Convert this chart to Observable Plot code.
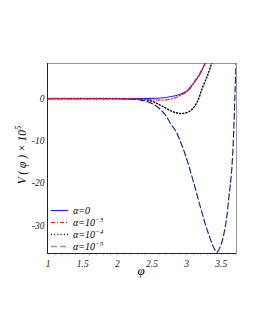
<!DOCTYPE html>
<html>
<head>
<meta charset="utf-8">
<script src="https://cdn.jsdelivr.net/npm/d3@7"></script>
<script src="https://cdn.jsdelivr.net/npm/@observablehq/plot@0.6"></script>
<style>
  html, body { margin: 0; padding: 0; background: #fff; }
  #chart { width: 255px; height: 330px; }
</style>
</head>
<body>
<div id="chart"></div>
<script>
// α = 0
const phiA0 = [1, 1.5, 2, 2.3, 2.5, 2.7, 2.82, 2.92, 3.01, 3.06, 3.11, 3.155, 3.2, 3.23, 3.26, 3.28];
const vA0   = [0, 0, 0, 0, 0.05, 0.25, 0.6, 1.1, 1.9, 2.9, 3.8, 4.8, 6.0, 7.0, 8.0, 8.6];
// α = 10^-3
const phiA3 = [1, 1.5, 2, 2.3, 2.5, 2.7, 2.8, 2.9, 3.0, 3.06, 3.11, 3.16, 3.21, 3.25, 3.27];
const vA3   = [0, 0, 0, -0.1, -0.3, -0.3, 0, 0.7, 1.6, 2.6, 4.0, 5.2, 6.6, 7.9, 8.6];
// α = 10^-4
const phiA4 = [1, 1.5, 2, 2.2, 2.35, 2.48, 2.58, 2.67, 2.75, 2.82, 2.94, 3.06, 3.155, 3.23, 3.3, 3.35, 3.37];
const vA4   = [0, 0, 0, -0.05, -0.2, -0.5, -1.2, -2.0, -2.7, -3.2, -3.5, -2.8, -0.7, 2.7, 5.4, 7.8, 8.8];
// α = 10^-5
const phiA5 = [1, 1.5, 2, 2.2, 2.35, 2.46, 2.54, 2.61, 2.7, 2.77, 2.84, 2.96, 3.08, 3.2, 3.3, 3.4, 3.435, 3.49, 3.565, 3.61, 3.65, 3.68, 3.7, 3.715];
const vA5   = [0, 0, 0, -0.1, -0.4, -0.9, -1.5, -2.4, -4.0, -6.0, -7.6, -12.3, -18.6, -25.7, -31.2, -35.5, -36.3, -34.8, -29.6, -23.3, -17, -7.6, 2, 8.8];

const xTicks = [1, 1.5, 2, 2.5, 3, 3.5];
const xTickLabels = ["1", "1.5", "2", "2.5", "3", "3.5"];
const yTicks = [0, -10, -20, -30];
const yTickLabels = ["0", "-10", "-20", "-30"];
const xMinorTicks = d3.range(10, 38).map(d => d / 10);

const seriesNames = ["α=0", "α=10^-3", "α=10^-4", "α=10^-5"];

const table = (phi, v, s) => phi.map((p, i) => ({phi: p, v: v[i], s}));
const dA0 = table(phiA0, vA0, seriesNames[0]);
const dA3 = table(phiA3, vA3, seriesNames[1]);
const dA4 = table(phiA4, vA4, seriesNames[2]);
const dA5 = table(phiA5, vA5, seriesNames[3]);

const font = "'Liberation Serif', 'DejaVu Serif', serif";
const xDomain = [0.99, 3.72];
const yDomain = [-36.6, 8.3];

const plot = Plot.plot({
  width: 255,
  height: 330,
  marginLeft: 47,
  marginRight: 19,
  marginTop: 63,
  marginBottom: 77,
  style: {fontFamily: font, fontStyle: "italic", fontSize: "10px", background: "#fff", color: "#000"},
  x: {type: "linear", domain: xDomain},
  y: {type: "linear", domain: yDomain, axis: null},
  marks: [
    Plot.frame({stroke: "#999", strokeWidth: 1}),
    Plot.axisX({ticks: xMinorTicks, tickSize: 2.5, tickFormat: () => "", stroke: "#aaa", strokeWidth: 0.6, label: null}),
    Plot.text(xTicks, {x: d => d, y: yDomain[0], text: (d, i) => xTickLabels[i], dy: 10, fontSize: 9.5, fontStyle: "italic", fill: "#222"}),
    Plot.text(yTicks, {x: xDomain[0], y: d => d, text: (d, i) => yTickLabels[i], dx: -3, textAnchor: "end", fontSize: 9.5, fontStyle: "italic", fill: "#222"}),
    Plot.ruleX([xDomain[0]], {stroke: "#222", strokeWidth: 1}),
    Plot.ruleY([yDomain[0]], {stroke: "#222", strokeWidth: 1}),
    Plot.line(dA5, {x: "phi", y: "v", stroke: "#1c2a8c", strokeWidth: 1.2, strokeDasharray: "6,3", curve: "catmull-rom", clip: true}),
    Plot.line(dA4, {x: "phi", y: "v", stroke: "#111", strokeWidth: 1.5, strokeDasharray: "1,2.2", curve: "catmull-rom", clip: true}),
    Plot.line(dA0, {x: "phi", y: "v", stroke: "#2020ff", strokeWidth: 1.1, curve: "catmull-rom", clip: true}),
    Plot.line(dA3, {x: "phi", y: "v", stroke: "#ff1010", strokeWidth: 1.1, strokeDasharray: "4,2,1,2", curve: "catmull-rom", clip: true})
  ]
});

document.getElementById("chart").appendChild(plot);

const svg = d3.select(plot);

// x-axis label
svg.append("text")
  .attr("x", 141).attr("y", 275)
  .attr("text-anchor", "middle")
  .style("font-family", font).style("font-size", "13px").style("font-style", "italic")
  .text("φ");

// y-axis label
svg.append("text")
  .attr("transform", "translate(26,155) rotate(-90)")
  .attr("text-anchor", "middle")
  .style("font-family", font)
  .style("font-size", "11.5px")
  .style("font-style", "italic")
  .call(t => {
    t.append("tspan").text("V ( φ ) × 10");
    t.append("tspan").attr("dy", -5).style("font-size", "8.5px").text("5");
  });

// legend
const legendItems = [
  {label: "0", sup: null, stroke: "#2020ff", dash: null, w: 1.1},
  {label: "10", sup: "−3", stroke: "#ff1010", dash: "4,2,1,2", w: 1.1},
  {label: "10", sup: "−4", stroke: "#111", dash: "1,2.2", w: 1.4},
  {label: "10", sup: "−5", stroke: "#c07cc8", dash: "6,3", w: 1.4}
];
const lg = svg.append("g").attr("text-anchor", "start");
legendItems.forEach((it, i) => {
  const y = 210.5 + i * 12;
  lg.append("line").attr("x1", 51).attr("x2", 68).attr("y1", y).attr("y2", y)
    .attr("stroke", it.stroke).attr("stroke-width", it.w)
    .attr("stroke-dasharray", it.dash);
  const t = lg.append("text").attr("x", 73).attr("y", y + 3.5).attr("text-anchor", "start")
    .style("font-family", font).style("font-size", "10px").style("font-style", "italic");
  t.append("tspan").text("α=" + it.label);
  if (it.sup) t.append("tspan").attr("dy", -4).style("font-size", "7px").text(it.sup);
});
</script>
</body>
</html>
